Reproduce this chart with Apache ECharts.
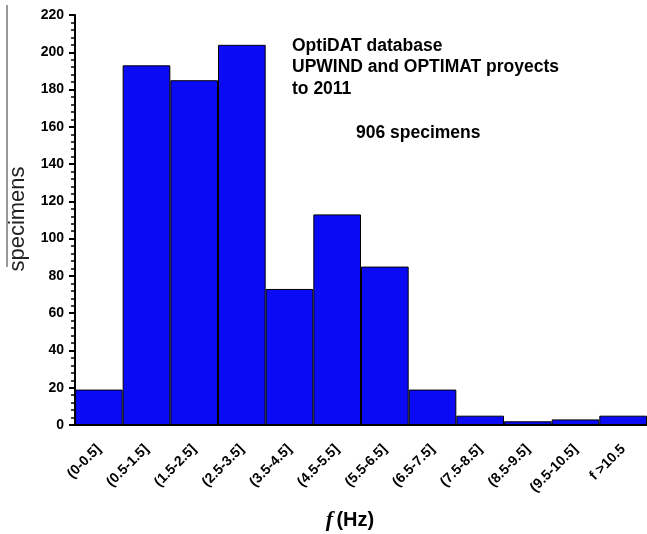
<!DOCTYPE html>
<html>
<head>
<meta charset="utf-8">
<script src="https://cdn.jsdelivr.net/npm/echarts@6/dist/echarts.min.js"></script>
<style>html,body{margin:0;padding:0;background:#fff}#c{width:647px;height:534px}</style>
</head>
<body>
<div id="c"></div>
<script>
var categories = ['(0-0.5]','(0.5-1.5]','(1.5-2.5]','(2.5-3.5]','(3.5-4.5]','(4.5-5.5]','(5.5-6.5]','(6.5-7.5]','(7.5-8.5]','(8.5-9.5]','(9.5-10.5]','f >10.5'];
var specimens = [19,193,185,204,73,113,85,19,5,2,3,5];
var yTicks = [0,20,40,60,80,100,120,140,160,180,200,220];
var annotations = ['OptiDAT database','UPWIND and OPTIMAT proyects','to 2011'];
var totalLabel = '906 specimens';

var chart = echarts.init(document.getElementById('c'));
var ff = 'Liberation Sans, Arial, sans-serif';
chart.setOption({
  animation: false,
  grid: {left: 75, right: -4, top: 15, bottom: 109},
  xAxis: {
    type: 'category',
    data: categories,
    boundaryGap: true,
    axisLine: {lineStyle: {color: '#000', width: 2}},
    axisTick: {alignWithLabel: true, length: 8, lineStyle: {color: '#000', width: 2}},
    axisLabel: {rotate: 45, interval: 0, color: '#000', fontWeight: 'bold', fontSize: 14, fontFamily: ff, margin: 22}
  },
  yAxis: {
    type: 'value',
    min: yTicks[0], max: yTicks[yTicks.length-1], interval: 20,
    axisLine: {show: true, lineStyle: {color: '#000', width: 2}},
    axisTick: {show: true, length: 6, lineStyle: {color: '#000', width: 2}},
    minorTick: {show: true, splitNumber: 5, length: 4, lineStyle: {color: '#000', width: 1.5}},
    splitLine: {show: false},
    axisLabel: {color: '#000', fontWeight: 'bold', fontSize: 14, fontFamily: ff, margin: 11}
  },
  series: [{
    type: 'bar',
    data: specimens,
    barCategoryGap: 0,
    itemStyle: {color: '#0a0af5', borderColor: '#000', borderWidth: 1}
  }],
  graphic: [
    {type: 'line', shape: {x1: 7, y1: 5, x2: 7, y2: 267}, style: {stroke: '#777', lineWidth: 1.5}},
    {type: 'text', x: 18, y: 219, rotation: Math.PI/2, style: {text: 'specimens', font: '22px ' + ff, fill: '#222', align: 'center', verticalAlign: 'middle'}},
    {type: 'text', left: 292, top: 35, style: {text: annotations.join('\n'), font: 'bold 17.5px ' + ff, fill: '#000', lineHeight: 21.5}},
    {type: 'text', left: 356, top: 124, style: {text: totalLabel, font: 'bold 17.5px ' + ff, fill: '#000'}},
    {type: 'text', x: 350, y: 520, style: {
      text: '{i|f} {b|(Hz)}', align: 'center', verticalAlign: 'middle',
      rich: {
        i: {font: 'italic bold 22px "Liberation Serif", "Times New Roman", serif', fill: '#000'},
        b: {font: 'bold 20px ' + ff, fill: '#000'}
      }
    }}
  ]
});
</script>
</body>
</html>
